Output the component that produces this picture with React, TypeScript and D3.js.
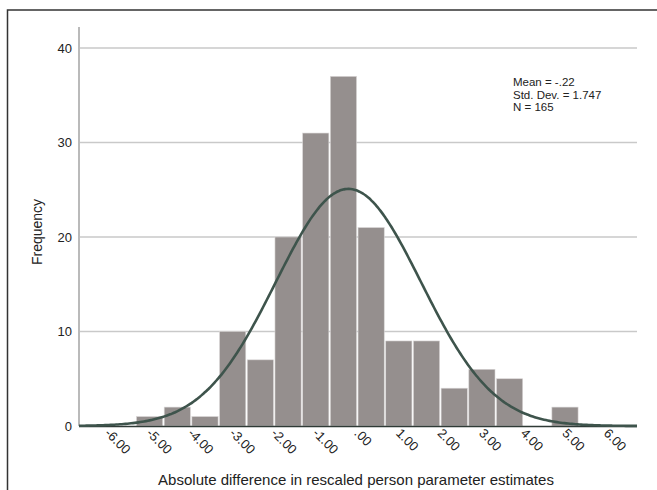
import React from 'react';
import * as d3 from 'd3';

// histogram counts, one per bin (left to right)
const counts = [1, 2, 1, 10, 7, 20, 31, 37, 21, 9, 9, 4, 6, 5, 0, 2];
const binStart = -5.335;
const binWidth = 0.666;

const xTicks = [-6, -5, -4, -3, -2, -1, 0, 1, 2, 3, 4, 5, 6];
const yTicks = [0, 10, 20, 30, 40];

const mean = -0.22;
const stdDev = 1.747;
const n = 165;
const statLines = ['Mean = -.22', 'Std. Dev. = 1.747', 'N = 165'];

const font = '"Liberation Sans", Arial, sans-serif';

const fmtTick = (v: number) => v.toFixed(2).replace(/^(-?)0\./, '$1.');

const App = () => {
  const x = d3.scaleLinear().domain([-6.7, 6.72]).range([79, 637]);
  const y = d3.scaleLinear().domain([0, 40]).range([426, 48]);

  const pdf = (v: number) =>
    Math.exp(-0.5 * ((v - mean) / stdDev) ** 2) / (stdDev * Math.sqrt(2 * Math.PI));
  const curvePts = d3.range(0, 301).map(i => {
    const v = -6.7 + (i / 300) * (6.72 + 6.7);
    return [v, n * binWidth * pdf(v)] as [number, number];
  });
  const line = d3.line<[number, number]>()
    .x(d => x(d[0]))
    .y(d => y(d[1]))
    .curve(d3.curveBasis);

  return (
    <svg width={657} height={490} style={{ position: 'absolute', left: 0, top: 0, background: '#fff' }}>
      <rect x={7.5} y={10} width={700} height={600} fill="none" stroke="#333" strokeWidth={1.5} />

      {yTicks.filter(t => t > 0).map(t => (
        <line key={t} x1={80} x2={637} y1={y(t)} y2={y(t)} stroke="#c9c9c9" strokeWidth={1.5} />
      ))}

      {counts.map((c, i) => {
        const x0 = x(binStart + i * binWidth);
        const x1 = x(binStart + (i + 1) * binWidth);
        if (c === 0) return null;
        return (
          <rect key={i} x={x0 + 0.75} y={y(c)} width={x1 - x0 - 1.5} height={y(0) - y(c)}
            fill="#958f8e" stroke="#d9d6d6" strokeWidth={0.6} />
        );
      })}

      <line x1={79} x2={79} y1={27} y2={426} stroke="#8c8c8c" strokeWidth={1.2} />
      <line x1={79} x2={637} y1={426.5} y2={426.5} stroke="#2f3a36" strokeWidth={1.5} />

      <path d={line(curvePts) || ''} fill="none" stroke="#3e544c" strokeWidth={2.6} />

      {yTicks.map(t => (
        <text key={t} x={72} y={y(t)} dy="0.35em" textAnchor="end" fontFamily={font} fontSize={13} fill="#222">
          {t}
        </text>
      ))}

      {xTicks.map(t => (
        <text key={t} transform={`translate(${x(t) - 4}, 434) rotate(45)`} textAnchor="start"
          fontFamily={font} fontSize={13} fill="#222">
          {fmtTick(t)}
        </text>
      ))}

      <text transform="translate(42, 232) rotate(-90)" textAnchor="middle" fontFamily={font} fontSize={14} fill="#222">
        Frequency
      </text>
      <text x={356} y={485} textAnchor="middle" fontFamily={font} fontSize={15} fill="#222">
        Absolute difference in rescaled person parameter estimates
      </text>

      {statLines.map((s, i) => (
        <text key={s} x={513} y={86 + i * 12.5} fontFamily={font} fontSize={11.5} fill="#222">
          {s}
        </text>
      ))}
    </svg>
  );
};

export default App;
